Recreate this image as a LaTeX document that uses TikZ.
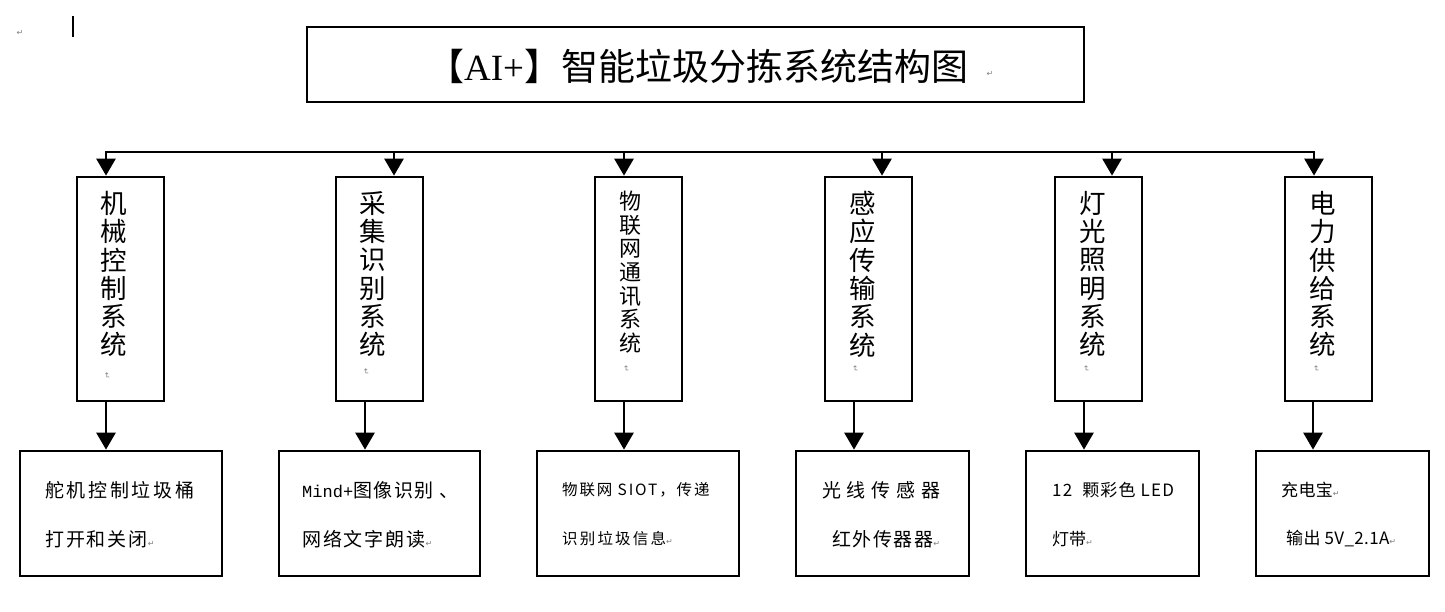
\documentclass[tikz,border=0pt]{standalone}
\usepackage{fontspec}
\setmainfont{Noto Sans CJK SC}
\newfontfamily\serifl{Liberation Serif}
\newfontfamily\monol{Liberation Mono}
\newfontfamily\dvs{DejaVu Sans}
\usetikzlibrary{arrows.meta}
\newcommand{\retmark}{{\dvs\fontsize{8}{8}\selectfont\textcolor{gray}{↵}}}
\newcommand{\lsp}[1]{\addfontfeature{LetterSpace=#1}}
\begin{document}
\begin{tikzpicture}[x=1pt,y=-1pt,
  lw/.style={line width=2.7pt},
  titlebox/.style={draw,lw,rectangle,inner sep=0,minimum width=777pt,minimum height=75pt},
  upbox/.style={draw,lw,rectangle,inner sep=0,minimum width=87pt,minimum height=224pt},
  lowbox/.style={draw,lw,rectangle,inner sep=0,minimum width=#1,minimum height=125pt},
  vtext/.style={inner sep=0,align=center,anchor=north,font=\fontsize{26.5}{28.3}\selectfont},
  ltext/.style={inner sep=0,anchor=west},
  rmark/.style={inner sep=0,rotate=-90},
  arr/.style={lw,-{Triangle[length=17pt,width=19pt]}}]
\useasboundingbox (0,0) rectangle (1445,612);
% top-left marks
\node[inner sep=0] (r0) at (20,33) {\retmark};
\draw[line width=1.8pt] (73,16) -- (73,37);
% title
\node[titlebox] (title) at (695.5,64.5) {};
\node[inner sep=0,anchor=west,font=\fontsize{37}{40}\selectfont] (ttext) at (427,66)
  {【{\serifl AI+}】智能垃圾分拣系统结构图};
\node[inner sep=0] (tr) at (990,74) {\retmark};
% upper boxes
\node[upbox] (u1) at (120.5,289) {};
\node[upbox] (u2) at (379.5,289) {};
\node[upbox] (u3) at (638.5,289) {};
\node[upbox] (u4) at (868.5,289) {};
\node[upbox] (u5) at (1098.5,289) {};
\node[upbox] (u6) at (1328.5,289) {};
\node[vtext] (t1) at (114,191) {机\\械\\控\\制\\系\\统};
\node[vtext] (t2) at (373,191) {采\\集\\识\\别\\系\\统};
\node[vtext,font=\fontsize{22}{23.6}\selectfont] (t3) at (630,191) {物\\联\\网\\通\\讯\\系\\统};
\node[vtext] (t4) at (863,191) {感\\应\\传\\输\\系\\统};
\node[vtext] (t5) at (1093,191) {灯\\光\\照\\明\\系\\统};
\node[vtext] (t6) at (1323,191) {电\\力\\供\\给\\系\\统};
\node[rmark] (m1) at (107,376) {\retmark};
\node[rmark] (m2) at (366,372) {\retmark};
\node[rmark] (m3) at (626,369) {\retmark};
\node[rmark] (m4) at (855,369) {\retmark};
\node[rmark] (m5) at (1086,369) {\retmark};
\node[rmark] (m6) at (1316,369) {\retmark};
% lower boxes
\node[lowbox=202pt] (l1) at (121,513.5) {};
\node[lowbox=201pt] (l2) at (379.5,513.5) {};
\node[lowbox=202pt] (l3) at (638,513.5) {};
\node[lowbox=173pt] (l4) at (882.5,513.5) {};
\node[lowbox=173pt] (l5) at (1112.5,513.5) {};
\node[lowbox=173pt] (l6) at (1342.5,513.5) {};
% lower texts
\node[ltext,font=\fontsize{19}{20}\selectfont\lsp{14}] (p1a) at (45,490) {舵机控制垃圾桶};
\node[ltext,font=\fontsize{19}{20}\selectfont\lsp{10}] (p1b) at (45,539) {打开和关闭\retmark};
\node[ltext,font=\fontsize{19}{20}\selectfont\lsp{8}] (p2a) at (302,490) {{\monol\fontsize{17}{20}\selectfont Mind+}图像识别 、};
\node[ltext,font=\fontsize{19}{20}\selectfont\lsp{10}] (p2b) at (302,539) {网络文字朗读\retmark};
\node[ltext,font=\fontsize{15.5}{18}\selectfont\lsp{12}] (p3a) at (562,490) {物联网 SIOT，传递};
\node[ltext,font=\fontsize{15.5}{18}\selectfont\lsp{14}] (p3b) at (562,539) {识别垃圾信息\retmark};
\node[ltext,font=\fontsize{19}{20}\selectfont\lsp{8}] (p4a) at (822,490) {光 线 传 感 器};
\node[ltext,font=\fontsize{19}{20}\selectfont\lsp{8}] (p4b) at (832,539) {红外传器器\retmark};
\node[ltext,font=\fontsize{17}{20}\selectfont\lsp{7}] (p5a) at (1052,490) {12\ \ 颗彩色 LED};
\node[ltext,font=\fontsize{17}{20}\selectfont] (p5b) at (1052,539) {灯带\retmark};
\node[ltext,font=\fontsize{17}{20}\selectfont\lsp{2}] (p6a) at (1281,490) {充电宝\retmark};
\node[ltext,font=\fontsize{17}{20}\selectfont\lsp{2}] (p6b) at (1286,539) {输出 5V\_2.1A\retmark};
% bus and arrows
\coordinate (b1) at (106,152);
\coordinate (b2) at (394,152);
\coordinate (b3) at (624,152);
\coordinate (b4) at (882,152);
\coordinate (b5) at (1112,152);
\coordinate (b6) at (1314,152);
\draw[lw,line cap=rect] (b1) -- (b6);
\foreach \i in {1,...,6} \draw[arr] (b\i) -- (b\i |- u\i.north);
\coordinate (d1) at (106,0);
\coordinate (d2) at (365,0);
\coordinate (d3) at (624,0);
\coordinate (d4) at (854,0);
\coordinate (d5) at (1084,0);
\coordinate (d6) at (1313,0);
\foreach \i in {1,...,6} \draw[arr] (d\i |- u\i.south) -- (d\i |- l\i.north);
\end{tikzpicture}
\end{document}
